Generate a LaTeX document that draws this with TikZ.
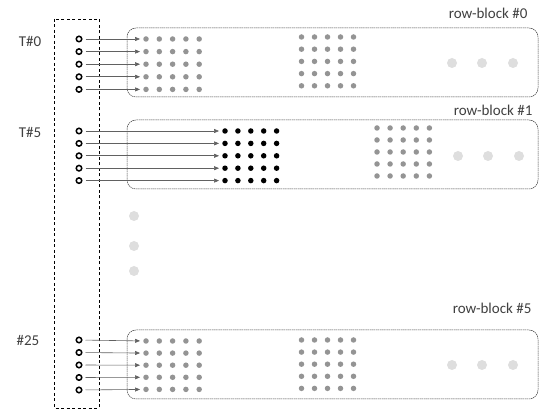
\documentclass[tikz,border=0pt]{standalone}
\usepackage{fontspec}
\setmainfont{Carlito}
\usetikzlibrary{arrows.meta}

\begin{document}
\begin{tikzpicture}[
    x=1pt, y=-1pt,
    thread/.style={circle, draw=black, line width=1.5pt, inner sep=0pt, minimum size=5.5pt},
    elem/.style={circle, fill=black!42, inner sep=0pt, minimum size=5.5pt},
    hot/.style={circle, fill=black, inner sep=0pt, minimum size=5.5pt},
    more/.style={circle, fill=black!13, inner sep=0pt, minimum size=10pt},
    block/.style={draw=black!72, line width=0.5pt, dash pattern=on 1.5pt off 0.6pt, rounded corners=9pt},
    lbl/.style={text=black!75, font=\fontsize{15}{17}\selectfont},
    arrow/.style={draw=black!62, line width=0.6pt, -{Triangle[length=5pt,width=4pt]}, shorten <=3pt, shorten >=3pt}
]
\useasboundingbox (0,0) rectangle (539,414);

% warp of threads
\draw[dashed, thick, dash pattern=on 3pt off 2.5pt] (54,19) rectangle (99,408);

% row-block #0
\draw[block] (127,28) rectangle (538,97);
\node[lbl, anchor=east] (rb0) at (531,13) {row-block \#0};
\node[lbl] (t0) at (30,41) {T\#0};
\foreach \i in {0,...,4} {
    \node[thread] (a\i) at (79,{39+12.6*\i}) {};
    \foreach \j in {0,...,4} {
        \node[elem] (a\i-\j) at ({146+13.3*\j},{39+12.6*\i}) {};
        \node[elem] at ({301.5+13*\j},{37+12.2*\i}) {};
    }
    \draw[arrow] (a\i) -- (a\i-0);
}
\foreach \x [count=\k] in {452,482,513}
    \node[more] (am\k) at (\x,63) {};

% row-block #1
\draw[block] (127,120) rectangle (538,189);
\node[lbl, anchor=east] (rb1) at (536,110) {row-block \#1};
\node[lbl] (t5) at (30,132) {T\#5};
\foreach \i in {0,...,4} {
    \node[thread] (b\i) at (79,{131+12.4*\i}) {};
    \foreach \j in {0,...,4} {
        \node[hot] (b\i-\j) at ({225+12.9*\j},{131+12.4*\i}) {};
        \node[elem] at ({377+13.1*\j},{128+12*\i}) {};
    }
    \draw[arrow] (b\i) -- (b\i-0);
}
\foreach \x [count=\k] in {458,488,519}
    \node[more] (bm\k) at (\x,156) {};

% skipped threads
\foreach \y [count=\k] in {216,246,271}
    \node[more] (vd\k) at (134,\y) {};

% row-block #5
\draw[block] (127,330) rectangle (538,399);
\node[lbl, anchor=east] (rb5) at (535,308) {row-block \#5};
\node[lbl] (t25) at (28,340) {\#25};
\foreach \i in {0,...,4} {
    \node[thread] (c\i) at (79,{340+12.5*\i}) {};
    \foreach \j in {0,...,4} {
        \node[elem] (c\i-\j) at ({146+13.3*\j},{341+12.1*\i}) {};
        \node[elem] at ({301.5+13*\j},{340+12.1*\i}) {};
    }
    \draw[arrow] (c\i) -- (c\i-0);
}
\foreach \x [count=\k] in {452,482,513}
    \node[more] (cm\k) at (\x,365) {};

\end{tikzpicture}
\end{document}
